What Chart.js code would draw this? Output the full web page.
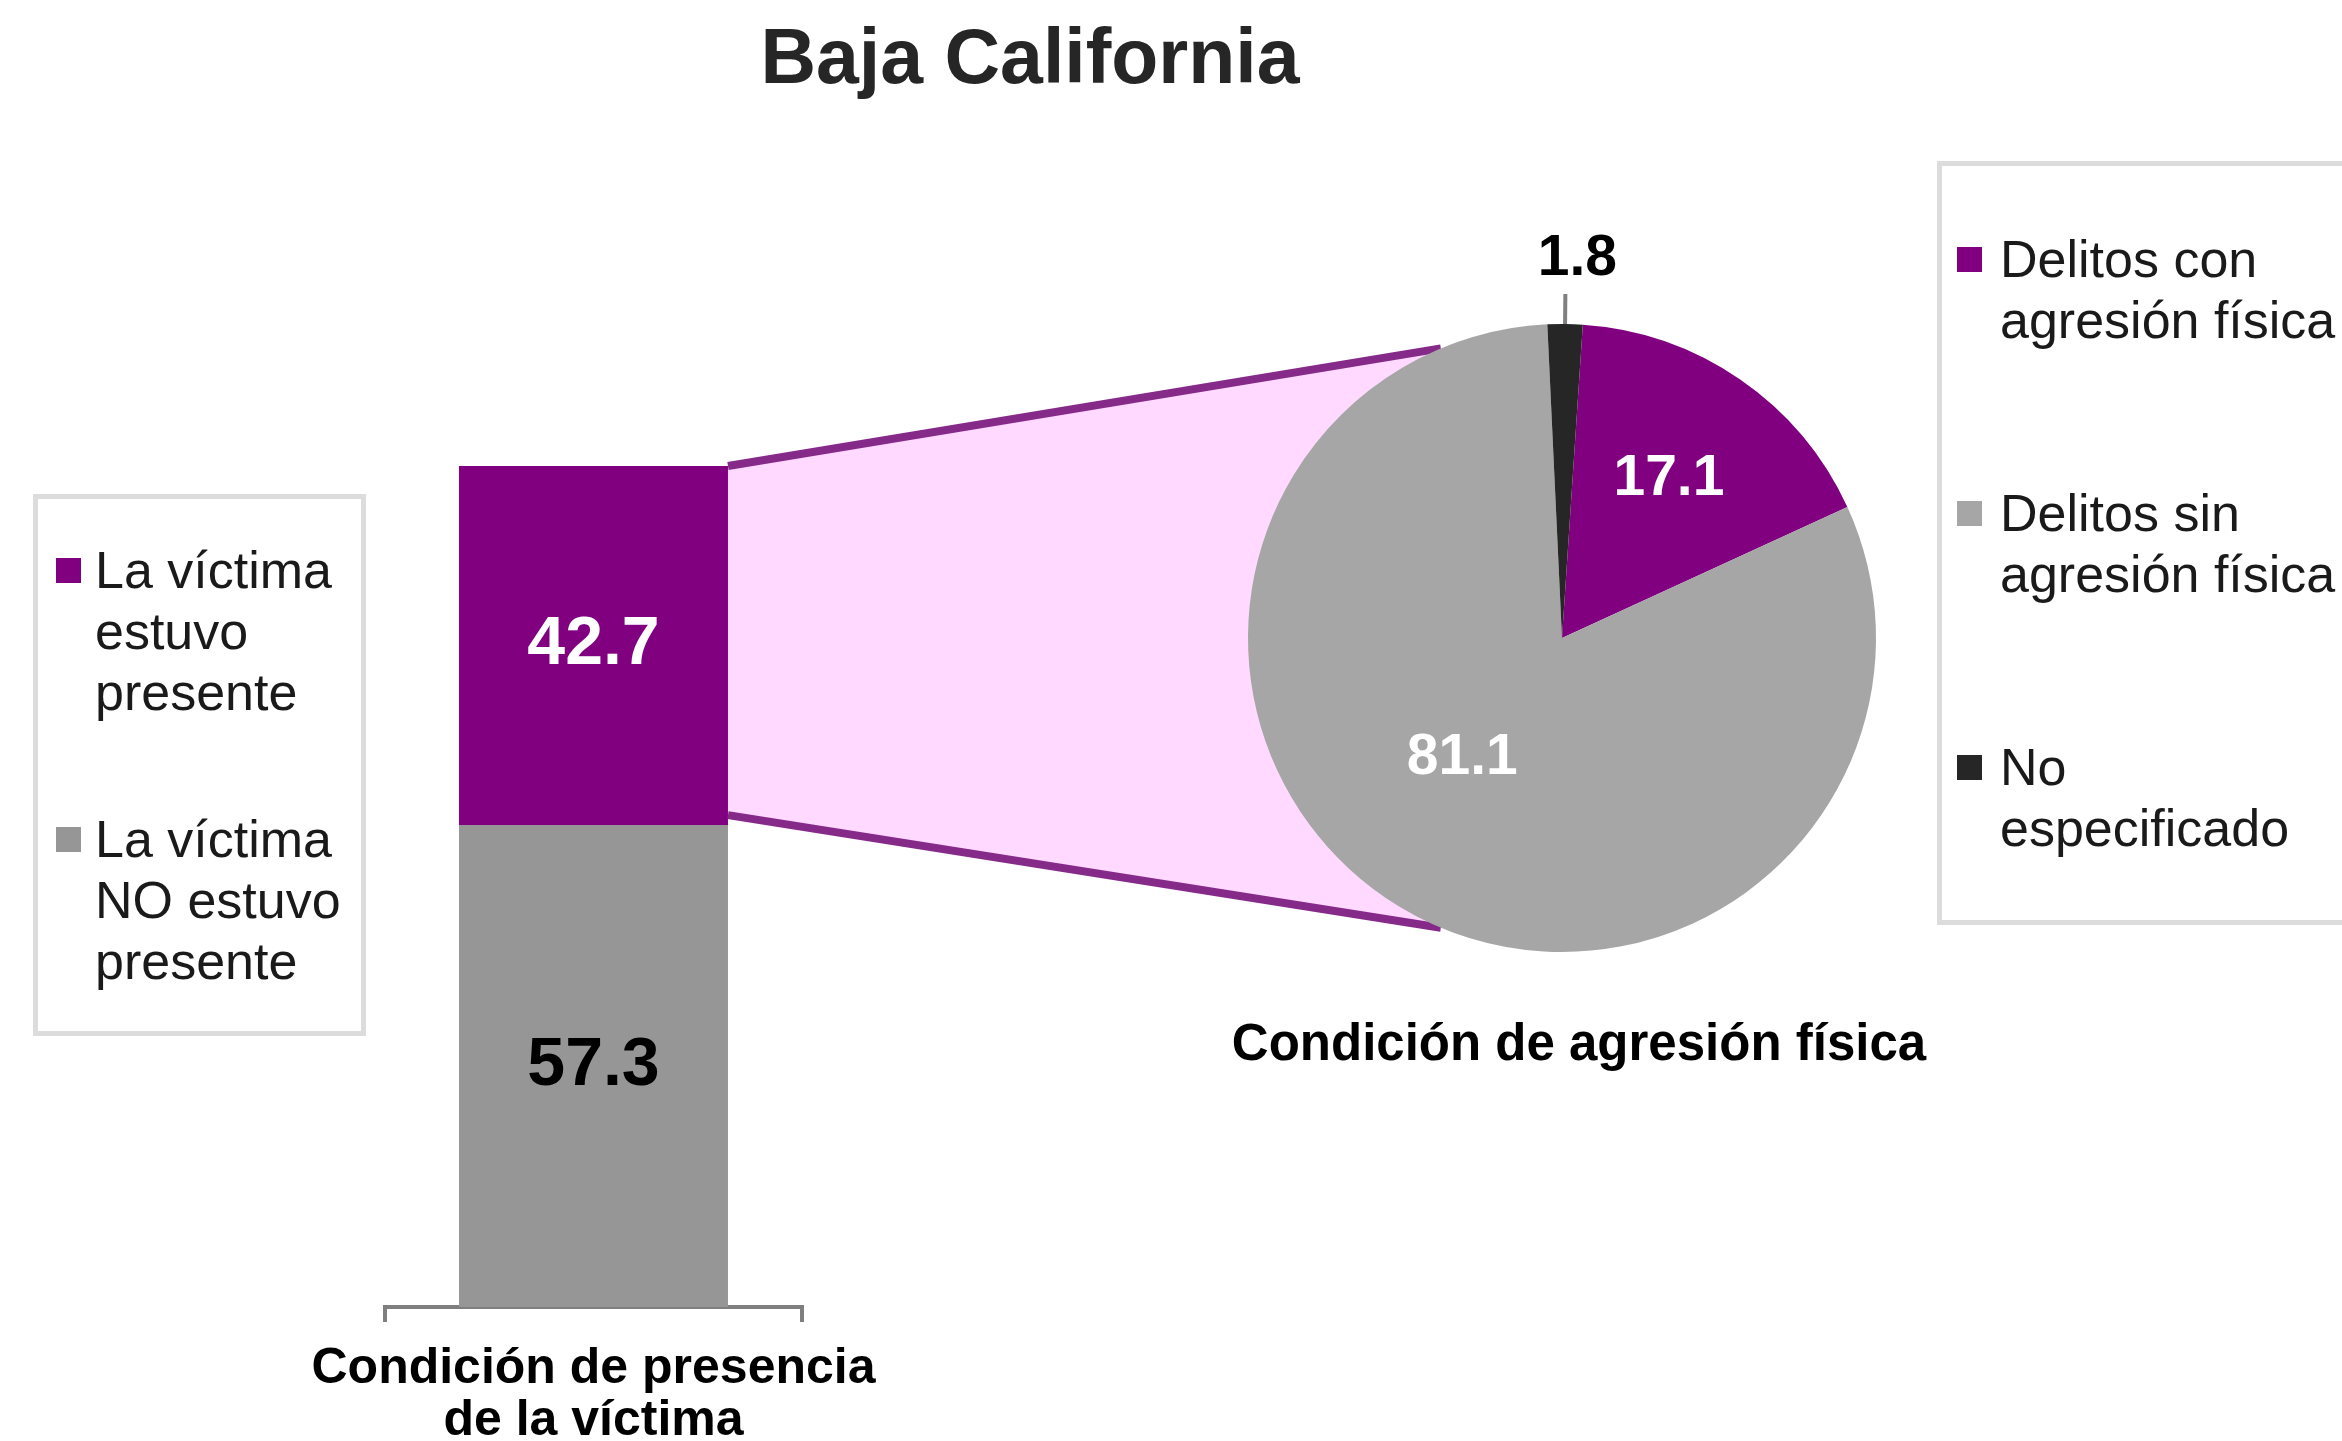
<!DOCTYPE html>
<html>
<head>
<meta charset="utf-8">
<script src="https://cdn.jsdelivr.net/npm/chart.js@4.4.1/dist/chart.umd.min.js"></script>
<style>
  html, body { margin: 0; padding: 0; background: #fff; overflow: hidden; }
  #pagina { position: relative; width: 2342px; height: 1441px; overflow: hidden;
            font-family: "Liberation Sans", Arial, sans-serif; color: #1a1a1a; }
  canvas { position: absolute; left: 0; top: 0; }
  #titulo { position: absolute; left: 430px; width: 1200px; top: 18px; text-align: center;
            font-size: 77px; line-height: 77px; font-weight: bold; color: #262626; }
  .caja { position: absolute; box-sizing: border-box; border: 5px solid #dcdcdc; }
  .marca { position: absolute; width: 25px; height: 25px; }
  .texto { position: absolute; font-size: 52px; line-height: 61px; white-space: nowrap; }
</style>
</head>
<body>
<div id="pagina">
  <canvas id="barras" width="2342" height="1500" style="width:2342px;height:1500px"></canvas>
  <canvas id="pastel" width="2342" height="1441" style="width:2342px;height:1441px"></canvas>
  <div id="titulo">Baja California</div>
  <div class="caja" style="left:33px;top:494px;width:333px;height:542px"></div>
  <div class="caja" style="left:1937px;top:161px;width:430px;height:764px"></div>
</div>
<script>
// datos
const categoriasPresencia = [['Condición de presencia', 'de la víctima']];
const etiquetasPresencia = [['La víctima', 'estuvo', 'presente'], ['La víctima', 'NO estuvo', 'presente']];
const valoresPresencia = [42.7, 57.3];
const coloresPresencia = ['#800080', '#969696'];
const colorTextoPresencia = ['#ffffff', '#000000'];

const etiquetasAgresion = [['Delitos con', 'agresión física'], ['Delitos sin', 'agresión física'], ['No', 'especificado']];
const valoresAgresion = [17.1, 81.1, 1.8];
const coloresAgresion = ['#800080', '#a6a6a6', '#262626'];
const tituloAgresion = 'Condición de agresión física';

// radio relativo de cada etiqueta del pastel (0 = afuera con linea guia) y ajuste fino en px
const radioEtiqueta = [0.6, 0.5, 0];
const ajusteEtiqueta = [[0, -4], [-18, -14], [12, 0]];

const fuente = '"Liberation Sans", Arial, sans-serif';
Chart.defaults.font.family = fuente;

const pagina = document.querySelector('#pagina');

// etiquetas de valor en las barras
const etiquetasBarras = {
  id: 'etiquetasBarras',
  afterDatasetsDraw(chart) {
    const ctx = chart.ctx;
    chart.data.datasets.forEach((ds, i) => {
      chart.getDatasetMeta(i).data.forEach((bar, j) => {
        ctx.save();
        ctx.font = 'bold 68px ' + fuente;
        ctx.fillStyle = ds.colorEtiqueta;
        ctx.textAlign = 'center';
        ctx.textBaseline = 'middle';
        ctx.fillText(ds.data[j].toFixed(1), bar.x, (bar.y + bar.base) / 2);
        ctx.restore();
      });
    });
  }
};

const barras = new Chart(document.querySelector('#barras'), {
  type: 'bar',
  data: {
    labels: categoriasPresencia,
    datasets: etiquetasPresencia.map((l, i) => ({
      label: l.join(' '),
      data: [valoresPresencia[i]],
      backgroundColor: coloresPresencia[i],
      colorEtiqueta: colorTextoPresencia[i],
      categoryPercentage: 1,
      barPercentage: 0.645
    })).reverse() // la primera serie va arriba de la pila
  },
  options: {
    responsive: false,
    animation: false,
    layout: { padding: { left: 385, right: 1540, top: 466, bottom: 32 } },
    plugins: { legend: { display: false }, tooltip: { enabled: false } },
    scales: {
      x: {
        stacked: true,
        grid: { display: true, drawOnChartArea: false, drawTicks: true, tickLength: 15,
                color: '#7f7f7f', lineWidth: 4, offset: true },
        border: { display: true, color: '#7f7f7f', width: 4 },
        ticks: { padding: 21, color: '#000', font: { size: 50, weight: 'bold', lineHeight: 1.04 } }
      },
      y: { stacked: true, display: false, min: 0, max: 100 }
    }
  },
  plugins: [etiquetasBarras]
});

// zona rosa que une la barra con el pastel
const conector = {
  id: 'conector',
  beforeDatasetsDraw(chart) {
    const idx = barras.data.datasets.findIndex(d => d.label === etiquetasPresencia[0].join(' '));
    const bar = barras.getDatasetMeta(idx).data[0];
    const xb = bar.x + bar.width / 2;
    const yArriba = bar.y;
    const yAbajo = bar.base - 10;
    const arco = chart.getDatasetMeta(0).data[0];
    const cx = arco.x, cy = arco.y, R = arco.outerRadius;
    const a = 112.7 * Math.PI / 180;
    const p1 = [cx + R * Math.cos(-a), cy + R * Math.sin(-a)];
    const p2 = [cx + R * Math.cos(a), cy + R * Math.sin(a)];
    const ctx = chart.ctx;
    ctx.save();
    ctx.fillStyle = '#ffd9ff';
    ctx.beginPath();
    ctx.moveTo(xb, yArriba);
    ctx.lineTo(p1[0], p1[1]);
    ctx.lineTo(cx, cy);
    ctx.lineTo(p2[0], p2[1]);
    ctx.lineTo(xb, yAbajo);
    ctx.closePath();
    ctx.fill();
    ctx.strokeStyle = '#862a8a';
    ctx.lineWidth = 8;
    ctx.beginPath();
    ctx.moveTo(xb, yArriba); ctx.lineTo(p1[0], p1[1]);
    ctx.moveTo(xb, yAbajo); ctx.lineTo(p2[0], p2[1]);
    ctx.stroke();
    ctx.restore();
  }
};

const etiquetasPastel = {
  id: 'etiquetasPastel',
  afterDatasetsDraw(chart) {
    const ctx = chart.ctx;
    const ds = chart.data.datasets[0];
    chart.getDatasetMeta(0).data.forEach((arco, i) => {
      const p = arco.getProps(['x', 'y', 'startAngle', 'endAngle', 'outerRadius']);
      const medio = (p.startAngle + p.endAngle) / 2;
      const txt = ds.data[i].toFixed(1);
      const [dx, dy] = ajusteEtiqueta[i];
      ctx.save();
      ctx.font = 'bold 57px ' + fuente;
      ctx.textAlign = 'center';
      ctx.textBaseline = 'middle';
      if (radioEtiqueta[i] > 0) {
        const r = p.outerRadius * radioEtiqueta[i];
        ctx.fillStyle = '#fff';
        ctx.fillText(txt, p.x + Math.cos(medio) * r + dx, p.y + Math.sin(medio) * r + dy);
      } else {
        const x0 = p.x + Math.cos(medio) * p.outerRadius;
        const y0 = p.y + Math.sin(medio) * p.outerRadius;
        const x1 = p.x + Math.cos(medio) * (p.outerRadius + 30);
        const y1 = p.y + Math.sin(medio) * (p.outerRadius + 30);
        ctx.strokeStyle = '#808080';
        ctx.lineWidth = 4;
        ctx.beginPath(); ctx.moveTo(x0, y0); ctx.lineTo(x1, y1); ctx.stroke();
        ctx.fillStyle = '#000';
        ctx.fillText(txt, x1 + dx, p.y + Math.sin(medio) * (p.outerRadius + 65) + dy);
      }
      ctx.restore();
    });
  }
};

// leyenda de categoria bajo el pastel
const rotuloPastel = {
  id: 'rotuloPastel',
  afterDraw(chart) {
    const ctx = chart.ctx;
    const arco = chart.getDatasetMeta(0).data[0];
    ctx.save();
    ctx.font = 'bold 51px ' + fuente;
    ctx.fillStyle = '#000';
    ctx.textAlign = 'center';
    ctx.textBaseline = 'middle';
    ctx.fillText(tituloAgresion, arco.x + 17, chart.chartArea.bottom + 94);
    ctx.restore();
  }
};

const pastel = new Chart(document.querySelector('#pastel'), {
  type: 'pie',
  data: {
    labels: etiquetasAgresion.map(l => l.join(' ')),
    datasets: [{ data: valoresAgresion, backgroundColor: coloresAgresion, borderWidth: 0 }]
  },
  options: {
    responsive: false,
    animation: false,
    rotation: 3.8,
    layout: { padding: { left: 1248, right: 466, top: 324, bottom: 489 } },
    plugins: { legend: { display: false }, tooltip: { enabled: false } }
  },
  plugins: [conector, etiquetasPastel, rotuloPastel]
});

// leyendas en html
function leyenda(etiquetas, colores, xMarca, xTexto, y0, paso) {
  etiquetas.forEach((lineas, i) => {
    const y = y0 + i * paso;
    const m = document.createElement('div');
    m.className = 'marca';
    m.style.left = xMarca + 'px';
    m.style.top = (y - 12) + 'px';
    m.style.background = colores[i];
    pagina.appendChild(m);
    const t = document.createElement('div');
    t.className = 'texto';
    t.style.left = xTexto + 'px';
    t.style.top = (y - 30) + 'px';
    t.innerHTML = lineas.join('<br>');
    pagina.appendChild(t);
  });
}
leyenda(etiquetasPresencia, coloresPresencia, 56, 95, 570, 269);
leyenda(etiquetasAgresion, coloresAgresion, 1957, 2000, 259, 254);
</script>
</body>
</html>
